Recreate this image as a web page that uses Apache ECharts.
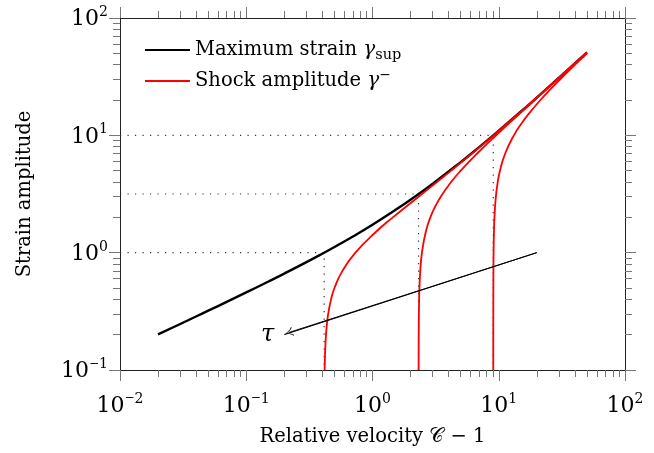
<!DOCTYPE html>
<html><head><meta charset="utf-8">
<script src="https://cdn.jsdelivr.net/npm/echarts@6/dist/echarts.min.js"></script>
<style>html,body{margin:0;padding:0;background:#fff}#c{width:654px;height:453px}</style>
</head><body><div id="c"></div>
<script>
// ---- data ----
const xMajorTicks = [0.01, 0.1, 1, 10, 100];
const yMajorTicks = [0.1, 1, 10, 100];
const xMinorTicks = [0.02,0.03,0.04,0.05,0.06,0.07,0.08,0.09,
                     0.2,0.3,0.4,0.5,0.6,0.7,0.8,0.9,
                     2,3,4,5,6,7,8,9, 20,30,40,50,60,70,80,90];
const yMinorTicks = [0.2,0.3,0.4,0.5,0.6,0.7,0.8,0.9,
                     2,3,4,5,6,7,8,9, 20,30,40,50,60,70,80,90];

// Maximum strain gamma_sup vs relative velocity
const maxStrain = [
  [0.02,0.2010],[0.03,0.2468],[0.04,0.2857],[0.05,0.3202],[0.07,0.3807],
  [0.1,0.4583],[0.15,0.5679],[0.2,0.6633],[0.3,0.8307],[0.4,0.9798],
  [0.5,1.1180],[0.7,1.3748],[1,1.7321],[1.5,2.2913],[2,2.8284],[3,3.8730],
  [5,5.9161],[7,7.9373],[10,10.954],[15,15.969],[20,20.976],[30,30.984],
  [40,40.988],[50,50.990]
];
// Shock amplitude gamma^- for three tau values
const shockA = [
  [0.41774,0.1],[0.41930,0.12],[0.42215,0.15],[0.42829,0.2],[0.43614,0.25],
  [0.44568,0.3],[0.46969,0.4],[0.5,0.5],[0.57797,0.7],[0.73205,1],
  [1.06155,1.5],[1.44949,2],[2.31662,3],[3.24264,4],[4.19615,5],[6.14143,7],
  [9.0995,10],[14.0665,15],[19.0499,20],[29.0333,30],[39.025,40],[50,50.980]
];
const shockB = [
  [2.31813,0.1],[2.31880,0.12],[2.32002,0.15],[2.32265,0.2],[2.32603,0.25],
  [2.33017,0.3],[2.34066,0.4],[2.35410,0.5],[2.38969,0.7],[2.46410,1],
  [2.64005,1.5],[2.87298,2],[3.15331,2.5],[3.47214,3],[4.19615,4],[5,5],
  [6.74597,7],[9.53565,10],[14.3623,15],[19.2731,20],[29.1828,30],
  [39.1373,40],[50,50.892]
];
const shockC = [
  [9.05037,0.1],[9.05059,0.12],[9.05100,0.15],[9.05187,0.2],[9.05299,0.25],
  [9.05435,0.3],[9.05784,0.4],[9.06231,0.5],[9.07422,0.7],[9.09950,1],
  [9.16120,1.5],[9.24695,2],[9.48809,3],[9.81665,4],[10.22497,5],
  [11.24745,7],[13.17745,10],[15.43168,13],[17.05547,15],[21.38303,20],
  [25.94439,25],[30.63858,30],[40.24318,40],[50,50]
];
// reference levels (dotted guides): [x0, y]
const guideLevels = [[0.41421,1],[2.31662,3.16228],[9.04988,10]];
// tau arrow: from -> to (arrow head tip)
const tauArrow = [[20,1],[0.2,0.2]];
const tauArrowHead = [0.217,0.2085];
const tauLabel = [0.148,0.198];

// ---- chart ----
const FONT = 'DejaVu Serif';
const xMin = 0.01, xMax = 100, yMin = 0.1, yMax = 100;

function expLabel(v){
  const e = Math.round(Math.log10(v));
  if (e < 0) return '{b|10}{m|\u2212}{s|' + (-e) + '}';
  return '{b|10}{s|' + e + '}';
}
const tickRich = {
  b:{fontFamily:FONT,fontSize:22,lineHeight:25,verticalAlign:'bottom',color:'#000'},
  s:{fontFamily:FONT,fontSize:14,lineHeight:14,padding:[0,0,11,0],verticalAlign:'bottom',color:'#000'},
  m:{fontFamily:FONT,fontSize:12,lineHeight:12,padding:[0,0,13,0],verticalAlign:'bottom',color:'#000'}
};
const AX = '#222', TK = '#777';

function logAxis(kind, pos, ticks, len, withLine, withLabel, extra){
  const a = {
    type:'log', logBase:10,
    min: kind==='x'?xMin:yMin, max: kind==='x'?xMax:yMax,
    position: pos,
    axisLine:{show:withLine,onZero:false,lineStyle:{color:AX,width:1}},
    axisTick:{show:true,inside:false,length:len,customValues:ticks,lineStyle:{color:TK,width:1}},
    axisLabel:{show:withLabel},
    splitLine:{show:false}, minorTick:{show:false}, minorSplitLine:{show:false},
    axisPointer:{show:false}
  };
  if (withLabel){
    a.axisLabel = {show:true,customValues:ticks,formatter:expLabel,rich:tickRich,
      margin: kind==='x'?22:12, showMinLabel:true, showMaxLabel:true};
  }
  return Object.assign(a, extra||{});
}

const series = [];
guideLevels.forEach(function(g){
  series.push({type:'line', xAxisIndex:0, yAxisIndex:0, silent:true,
    data:[[xMin,g[1]],[g[0],g[1]],[g[0],yMin]],
    showSymbol:false, symbol:'none',
    lineStyle:{color:'#333',width:1.2,type:[1.2,6.3]}, z:1});
});
series.push({name:'shock', type:'line', data:shockA, showSymbol:false, symbol:'none', smooth:true,
  lineStyle:{color:'#ff0000',width:1.8}, itemStyle:{color:'#ff0000'}, z:3});
series.push({name:'shock', type:'line', data:shockB, showSymbol:false, symbol:'none', smooth:true,
  lineStyle:{color:'#ff0000',width:1.8}, itemStyle:{color:'#ff0000'}, z:3});
series.push({name:'shock', type:'line', data:shockC, showSymbol:false, symbol:'none', smooth:true,
  lineStyle:{color:'#ff0000',width:1.8}, itemStyle:{color:'#ff0000'}, z:3});
series.push({name:'max', type:'line', data:maxStrain, showSymbol:false, symbol:'none', smooth:true,
  lineStyle:{color:'#000',width:2.4}, itemStyle:{color:'#000'}, z:2});
series.push({type:'line', data:tauArrow, showSymbol:false, symbol:'none', silent:true,
  lineStyle:{color:'#000',width:1}, z:4,
  markLine:{silent:true, animation:false,
    symbol:['none','path://M0,0 C1,4 3,8 6,10 L5,11 C3,9 1,6.5 0,3 C-1,6.5 -3,9 -5,11 L-6,10 C-3,8 -1,4 0,0 Z'],
    symbolSize:[9,9],
    lineStyle:{color:'#000',width:1,type:'solid'}, label:{show:false},
    data:[[{coord:tauArrow[0]},{coord:tauArrowHead}]]},
  markPoint:{silent:true, animation:false, symbol:'circle', symbolSize:0,
    data:[{coord:tauLabel}],
    label:{show:true, position:'inside', formatter:'\u03c4', fontFamily:FONT,
      fontStyle:'italic', fontSize:24, color:'#000'}}
});

const chart = echarts.init(document.getElementById('c'), null, {renderer:'canvas'});
chart.setOption({
  animation:false,
  backgroundColor:'#fff',
  grid:{left:120, right:29, top:18, bottom:83, containLabel:false, outerBoundsMode:'none'},
  legend:{
    show:true,
    data:[{name:'max',icon:'rect',itemStyle:{color:'#000'}},
          {name:'shock',icon:'rect',itemStyle:{color:'#ff0000'}}],
    left:145, top:37, orient:'vertical', padding:0,
    itemWidth:45, itemHeight:2, itemGap:5, selectedMode:false,
    formatter:function(n){
      return n==='max' ? 'Maximum strain {g|\u03b3}{sub|sup}' : 'Shock amplitude {g|\u03b3}{sup|\u2212}';
    },
    textStyle:{fontFamily:FONT, fontSize:19.5, lineHeight:26, color:'#000',
      rich:{
        g:{fontFamily:FONT,fontStyle:'italic',fontSize:20,lineHeight:26,color:'#000'},
        sub:{fontFamily:FONT,fontSize:14.5,lineHeight:14,verticalAlign:'bottom',color:'#000'},
        sup:{fontFamily:FONT,fontSize:14,lineHeight:8,verticalAlign:'top',color:'#000'}
      }}
  },
  xAxis:[
    logAxis('x','bottom',xMajorTicks,11,true,true,{
      name:'Relative velocity {c|\ud835\udc9e} \u2212 1', nameLocation:'middle', nameGap:55,
      nameTextStyle:{fontFamily:FONT,fontSize:19.5,lineHeight:24,color:'#000',
        rich:{c:{fontFamily:FONT,fontSize:20,lineHeight:24,color:'#000'}}}
    }),
    logAxis('x','bottom',xMinorTicks,7,false,false),
    logAxis('x','top',xMajorTicks,11,true,false),
    logAxis('x','top',xMinorTicks,7,false,false)
  ],
  yAxis:[
    logAxis('y','left',yMajorTicks,11,true,true,{
      name:'Strain amplitude', nameLocation:'middle', nameGap:83, nameRotate:90,
      nameTextStyle:{fontFamily:FONT,fontSize:19.5,lineHeight:24,color:'#000'}
    }),
    logAxis('y','left',yMinorTicks,7,false,false),
    logAxis('y','right',yMajorTicks,11,true,false),
    logAxis('y','right',yMinorTicks,7,false,false)
  ],
  series: series
});
</script></body></html>
